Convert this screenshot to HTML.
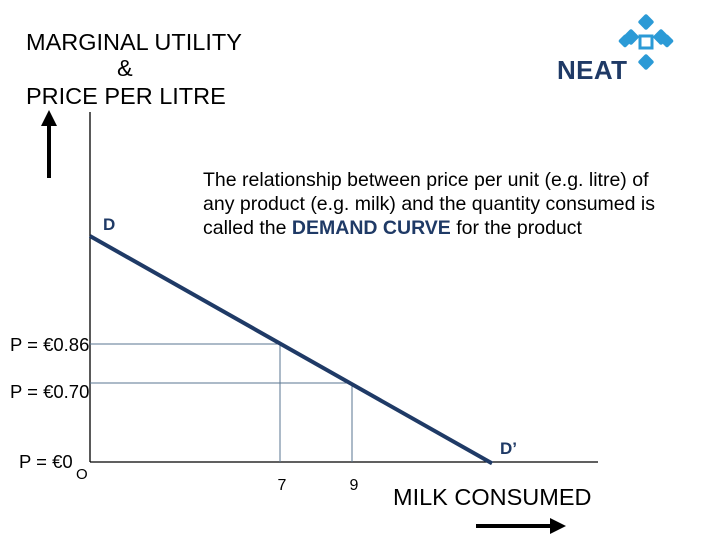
<!DOCTYPE html>
<html><head><meta charset="utf-8"><style>
body{margin:0;background:#fff;}
svg{display:block;font-family:"Liberation Sans",Arial,sans-serif;}
</style></head><body>
<svg width="720" height="540" viewBox="0 0 720 540">
<g font-size="23.5" fill="#000">
<text x="26" y="50">MARGINAL UTILITY</text>
<text x="117" y="76">&amp;</text>
<text x="26" y="104">PRICE PER LITRE</text>
</g>
<g>
<text x="557" y="79" font-size="26" font-weight="bold" fill="#1f3a66" textLength="70">NEAT</text>
<g fill="#2b9ad6">
<rect x="640" y="16" width="12" height="12" transform="rotate(45 646 22)" rx="2"/>
<rect x="625" y="31" width="12" height="12" transform="rotate(45 631 37)" rx="2"/>
<rect x="655" y="31" width="12" height="12" transform="rotate(45 661 37)" rx="2"/>
<rect x="640" y="56" width="12" height="12" transform="rotate(45 646 62)" rx="2"/>
<rect x="620" y="36" width="10" height="10" transform="rotate(45 625 41)" rx="2"/>
<rect x="662" y="36" width="10" height="10" transform="rotate(45 667 41)" rx="2"/>
</g>
<rect x="640" y="36" width="12" height="12" fill="none" stroke="#2b9ad6" stroke-width="3"/>
</g>
<g>
<line x1="49" y1="178" x2="49" y2="122" stroke="#000" stroke-width="4"/>
<polygon points="49,110 41,126 57,126" fill="#000"/>
</g>
<g>
<line x1="476" y1="526" x2="553" y2="526" stroke="#000" stroke-width="4"/>
<polygon points="566,526 550,518 550,534" fill="#000"/>
</g>
<line x1="90" y1="112" x2="90" y2="462" stroke="#000" stroke-width="1.3"/>
<line x1="90" y1="462" x2="598" y2="462" stroke="#000" stroke-width="1.3"/>
<g id="marks"></g>
<text x="103" y="230" font-size="17" font-weight="bold" fill="#1f3a66">D</text>
<text x="500" y="454" font-size="17" font-weight="bold" fill="#1f3a66">D’</text>
<g font-size="19.5" fill="#000">
<text x="203" y="186">The relationship between price per unit (e.g. litre) of</text>
<text x="203" y="210">any product (e.g. milk) and the quantity consumed is</text>
<text x="203" y="234">called the <tspan font-weight="bold" fill="#1f3a66">DEMAND CURVE</tspan> for the product</text>
</g>
<g font-size="18.5" fill="#000">
<text x="10" y="351">P = €0.86</text>
<text x="10" y="398">P = €0.70</text>
<text x="19" y="468">P = €0</text>
<text x="76" y="479" font-size="15">O</text>
</g>
<text x="393" y="505" font-size="23.5" fill="#000">MILK CONSUMED</text>
</svg>
<script>
const demandQty=[1.72,12.89];
const demandPrice=[1.303,0.37];
const refQty=[7,9];
const refPrice=[0.86,0.70];
const refTicks=["7","9"];
const X0=90,Y0=462;
function xs(v){return 28+36*v;}
function ys(p){return 553.6-243.75*p;}
const NS="http://www.w3.org/2000/svg";
const g=document.getElementById('marks');
function mk(t,a){const e=document.createElementNS(NS,t);for(const k in a)e.setAttribute(k,a[k]);g.appendChild(e);return e;}
for(let i=0;i<refQty.length;i++){
 const x=xs(refQty[i]),y=ys(refPrice[i]);
 const h=mk('line',{x1:X0,y1:y,x2:x,y2:y,stroke:'#5a7590','stroke-width':1});
 
 
 const v=mk('line',{x1:x,y1:y,x2:x,y2:Y0,stroke:'#5a7590','stroke-width':1});
 
 
 const t=mk('text',{x:x+2,y:490,'font-size':16,'text-anchor':'middle',fill:'#000'});
 t.textContent=refTicks[i];
 
 
}
const d=mk('line',{x1:xs(demandQty[0]),y1:ys(demandPrice[0]),x2:xs(demandQty[1]),y2:ys(demandPrice[1]),stroke:'#1f3a66','stroke-width':4});


</script>
</body></html>
